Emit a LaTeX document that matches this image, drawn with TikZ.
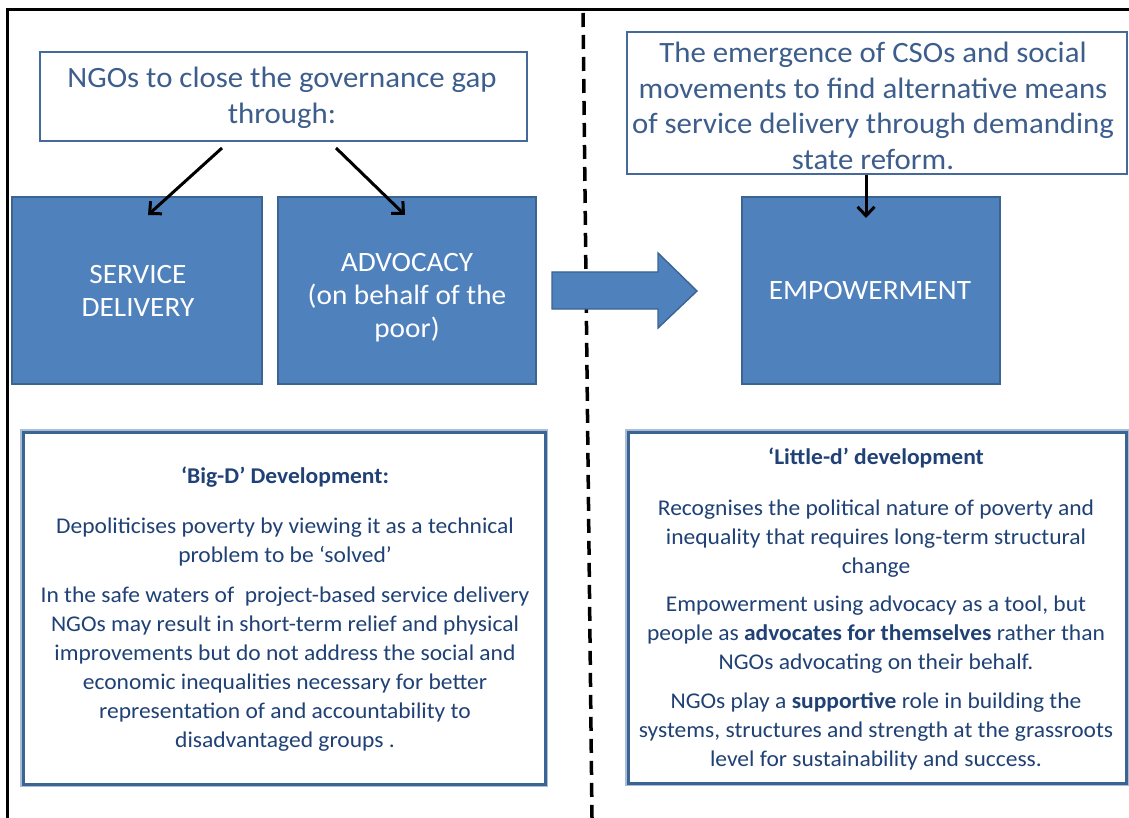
\documentclass[tikz,border=0pt]{standalone}
\usepackage{fontspec}
\setmainfont{Carlito}[FakeStretch=1.045]
\usetikzlibrary{arrows.meta}
\definecolor{boxblue}{HTML}{4F81BD}
\definecolor{boxedge}{HTML}{3A6491}
\definecolor{whiteedge}{HTML}{45699A}
\definecolor{toptext}{HTML}{3D5E8C}
\definecolor{bottext}{HTML}{1F4175}
\definecolor{halo}{HTML}{A9BCD8}
\begin{document}
\begin{tikzpicture}[x=1pt,y=-1pt,
  bluebox/.style={draw=boxedge,line width=1.6pt,fill=boxblue,inner sep=0pt},
  topbox/.style={draw=whiteedge,line width=2.6pt,fill=white,inner sep=0pt},
  infobox/.style={draw=boxedge,line width=3pt,fill=white,inner sep=0pt},
  toptxt/.style={text=toptext,align=center,inner sep=0pt,font=\fontsize{29.5}{35.5}\selectfont},
  bluetxt/.style={text=white,align=center,inner sep=0pt,font=\fontsize{28}{33}\selectfont},
  infotxt/.style={text=bottext,align=center,inner sep=0pt,font=\fontsize{22.5}{29}\selectfont},
  linkarrow/.style={-{Straight Barb[length=9pt,width=17pt]},line width=3pt,black},
  divider/.style={line width=3.5pt,dash pattern=on 14pt off 8pt,black}
]
\useasboundingbox (0,0) rectangle (1129,818);
\fill[white] (0,0) rectangle (1129,818);

% outer frame
\draw[line width=3pt,line join=miter] (7,818) -- (7,10) -- (1129,10);

% divider
\coordinate (dtop) at (583,13);
\coordinate (dbot) at (592,818);
\draw[divider] (dtop) -- (dbot);

% top boxes
\node[topbox,minimum width=487pt,minimum height=89pt] (gap) at (283.5,96.5) {};
\node[toptxt] (gaptxt) at (282,98) {NGOs to close the governance gap\\through:};

\node[topbox,minimum width=500pt,minimum height=142pt] (cso) at (877,103) {};
\node[toptxt] (csotxt) at (873,106) {The emergence of CSOs and social\\movements to find alternative means\\of service delivery through demanding\\state reform.};

% blue boxes
\node[bluebox,minimum width=250pt,minimum height=187pt] (sd) at (137,290.5) {};
\node[bluetxt] (sdtxt) at (138,291) {SERVICE\\DELIVERY};
\node[bluebox,minimum width=258pt,minimum height=187pt] (adv) at (407,290.5) {};
\node[bluetxt] (advtxt) at (407,298) {ADVOCACY\\(on behalf of the\\poor)};
\node[bluebox,minimum width=258pt,minimum height=187pt] (emp) at (871,290.5) {};
\node[bluetxt] (emptxt) at (870,291) {EMPOWERMENT};

% block arrow
\draw[fill=boxblue,draw=boxedge,line width=1.4pt,line join=miter]
  (552,272) -- (658,272) -- (658,253) -- (697,291) -- (658,328) -- (658,309) -- (552,309) -- cycle;

% connectors
\coordinate (s1) at (222,148);
\coordinate (e1) at (148,215);
\coordinate (s2) at (336,148);
\coordinate (e2) at (405,215);
\coordinate (e3) at (866,218);
\draw[linkarrow] (s1) -- (e1);
\draw[linkarrow] (s2) -- (e2);
\draw[linkarrow] (cso.south -| e3) -- (e3);

% info boxes
\node[draw=halo,line width=6pt,minimum width=522pt,minimum height=352pt] (bigdhalo) at (284,608) {};
\node[infobox,minimum width=522pt,minimum height=352pt] (bigd) at (284,608) {};
\node[infotxt] (bigdtxt) at (285,609) {\textbf{‘Big-D’ Development:}\\[21pt]
Depoliticises poverty by viewing it as a technical\\
problem to be ‘solved’\\[11pt]
In the safe waters of\ \ project-based service delivery\\
NGOs may result in short-term relief and physical\\
improvements but do not address the social and\\
economic inequalities necessary for better\\
representation of and accountability to\\
disadvantaged groups .};

\node[draw=halo,line width=6pt,minimum width=498pt,minimum height=351pt] (littledhalo) at (877,607.5) {};
\node[infobox,minimum width=498pt,minimum height=351pt] (littled) at (877,607.5) {};
\node[infotxt] (littledtxt) at (876,609) {\textbf{‘Little-d’ development}\\[22pt]
Recognises the political nature of poverty and\\
inequality that requires long-term structural\\
change\\[9pt]
Empowerment using advocacy as a tool, but\\
people as \textbf{advocates for themselves} rather than\\
NGOs advocating on their behalf.\\[10pt]
NGOs play a \textbf{supportive} role in building the\\
systems, structures and strength at the grassroots\\
level for sustainability and success.};
\end{tikzpicture}
\end{document}
